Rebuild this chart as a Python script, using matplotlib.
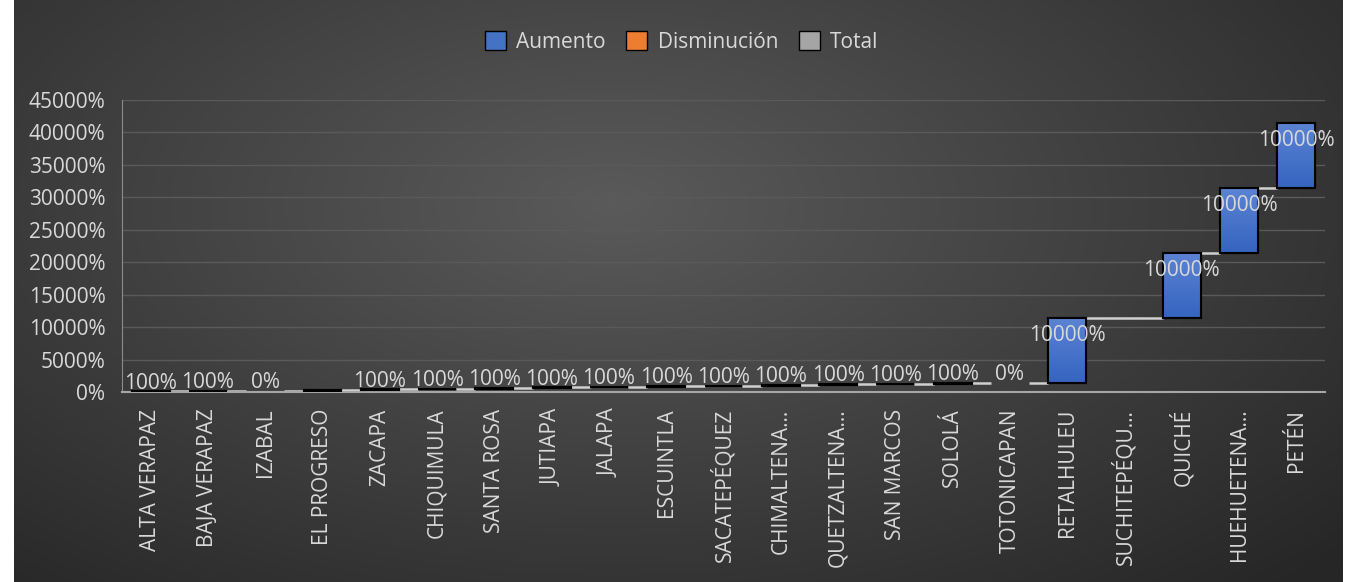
import numpy as np
import matplotlib.pyplot as plt
from matplotlib.colors import LinearSegmentedColormap
from matplotlib.patches import Patch

plt.rcParams['font.family'] = ['Open Sans', 'DejaVu Sans']

categories = ["ALTA VERAPAZ", "BAJA VERAPAZ", "IZABAL", "EL PROGRESO", "ZACAPA",
              "CHIQUIMULA", "SANTA ROSA", "JUTIAPA", "JALAPA", "ESCUINTLA",
              "SACATEPÉQUEZ", "CHIMALTENA…", "QUETZALTENA…", "SAN MARCOS", "SOLOLÁ",
              "TOTONICAPAN", "RETALHULEU", "SUCHITEPÉQU…", "QUICHÉ", "HUEHUETENA…", "PETÉN"]
# change in percent points; None = no value
values = [100, 100, 0, 100, 100, 100, 100, 100, 100, 100, 100, 100, 100, 100, 100,
          0, 10000, None, 10000, 10000, 10000]
labels = ["100%", "100%", "0%", "", "100%", "100%", "100%", "100%", "100%", "100%",
          "100%", "100%", "100%", "100%", "100%", "0%", "10000%", "", "10000%",
          "10000%", "10000%"]
yticks = list(range(0, 45001, 5000))

W, H = 1355, 582
fig = plt.figure(figsize=(W / 100, H / 100), dpi=100)
fig.patch.set_facecolor("white")

# radial background
bg = fig.add_axes([14 / W, 0, (1343 - 14) / W, 1])
yy, xx = np.mgrid[0:1:300j, 0:1:600j]
r = np.sqrt(((xx - 0.45) / 0.75) ** 2 + ((yy - 0.35) / 0.9) ** 2)
r = np.clip(r, 0, 1)
bgcmap = LinearSegmentedColormap.from_list("bg", ["#5a5a5a", "#262626"])
bg.imshow(r, cmap=bgcmap, aspect="auto", extent=[0, 1, 0, 1], origin="upper")
bg.axis("off")

ax = fig.add_axes([122 / W, 1 - 392 / H, (1325 - 122) / W, (392 - 100) / H])
ax.set_facecolor("none")

txt = "#d9d9d9"
fs = 15
bar_w = 0.66
barcmap = LinearSegmentedColormap.from_list("bar", ["#3564bf", "#5b83d3"])

x = np.arange(len(categories))
cum = 0
prev_right = None
for i, v in enumerate(values):
    if v is None:
        continue
    bottom, top = cum, cum + v
    if prev_right is not None:
        ax.plot([prev_right, i - bar_w / 2], [bottom, bottom], color="#d0d0d0",
                lw=1.8, zorder=2, solid_capstyle="butt")
    if v > 0:
        rect = ax.bar(i, v, bottom=bottom, width=bar_w, color="#4472c4",
                      edgecolor="black", lw=1.5, zorder=3)[0]
        grad = np.linspace(0, 1, 100).reshape(-1, 1)
        im = ax.imshow(grad, cmap=barcmap, aspect="auto", origin="lower",
                       extent=[i - bar_w / 2, i + bar_w / 2, bottom, top], zorder=3.5)
        im.set_clip_path(rect)
        ax.bar(i, v, bottom=bottom, width=bar_w, color="none",
               edgecolor="black", lw=1.5, zorder=4)
    if labels[i]:
        dy = -12.5 if v >= 1000 else 6
        ax.annotate(labels[i], (i, top), xytext=(0, dy), textcoords="offset points",
                    ha="center", va="center", color=txt, fontsize=fs, zorder=5)
    cum = top
    prev_right = i + bar_w / 2

ax.set_xlim(-0.5, len(categories) - 0.5)
ax.set_ylim(0, 45000)
ax.set_yticks(yticks)
ax.set_yticklabels([f"{t}%" for t in yticks], color=txt, fontsize=fs)
ax.set_xticks(x)
ax.set_xticklabels(categories, rotation=90, color=txt, fontsize=fs)
ax.tick_params(axis="x", length=0, pad=12)
ax.tick_params(axis="y", length=0, pad=12)
ax.grid(axis="y", color="#5a5a5a", lw=1, zorder=0)
ax.set_axisbelow(True)
for s in ["top", "right"]:
    ax.spines[s].set_visible(False)
ax.spines["left"].set_color("#8c8c8c")
ax.spines["bottom"].set_color("#a6a6a6")
ax.spines["bottom"].set_linewidth(1.5)

handles = [Patch(facecolor="#4472c4", edgecolor="black", label="Aumento"),
           Patch(facecolor="#ed7d31", edgecolor="black", label="Disminución"),
           Patch(facecolor="#a5a5a5", edgecolor="black", label="Total")]
fig.legend(handles=handles, loc="center", bbox_to_anchor=(0.503, 0.928), ncol=3,
           frameon=False, fontsize=fs, labelcolor=txt, handlelength=1.0,
           handleheight=1.0, handletextpad=0.5, columnspacing=1.0)

fig.savefig("out.png", dpi=100)
